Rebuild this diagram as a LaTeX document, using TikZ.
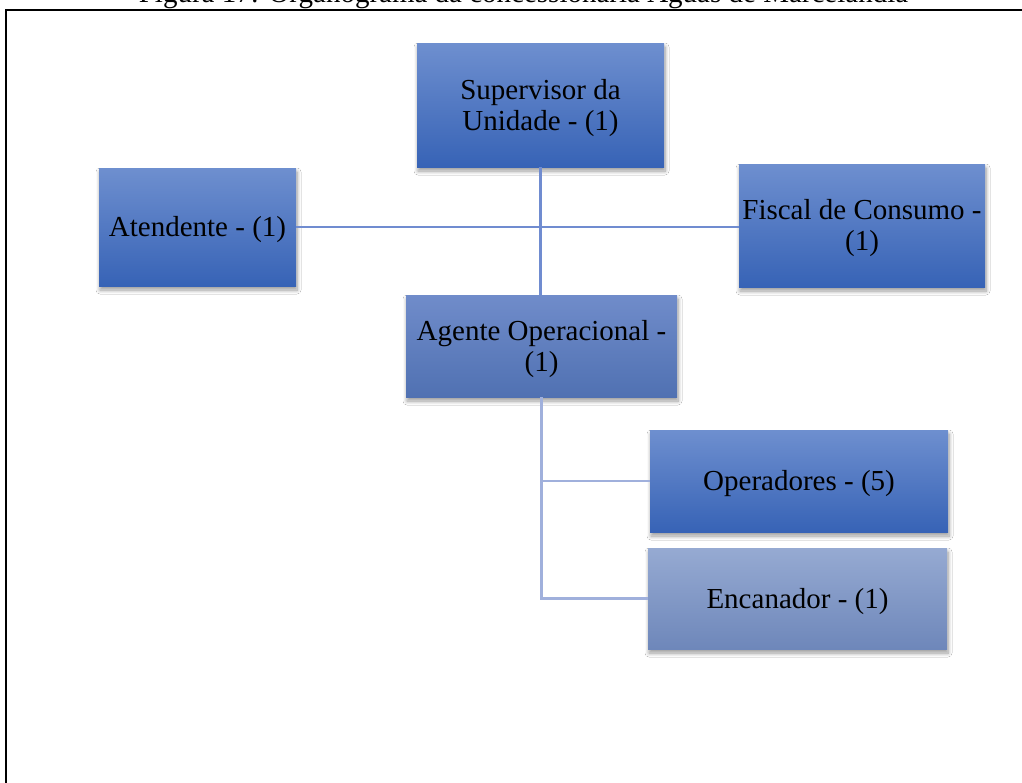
\documentclass[tikz,border=0pt]{standalone}
\usepackage{fontspec}
\setmainfont{Liberation Serif}
\usetikzlibrary{shadows.blur}
\definecolor{boxtop}{RGB}{110,143,207}
\definecolor{boxbot}{RGB}{55,99,182}
\definecolor{agtop}{RGB}{112,140,202}
\definecolor{agbot}{RGB}{80,113,178}
\definecolor{entop}{RGB}{150,170,210}
\definecolor{enbot}{RGB}{110,135,186}
\definecolor{linedark}{RGB}{112,140,208}
\definecolor{linelight}{RGB}{160,176,220}
\newcommand{\lowstrut}{\rule{0pt}{26pt}}
\tikzset{
  orgbox/.style={rectangle, inner sep=0pt, top color=boxtop, bottom color=boxbot,
    blur shadow={shadow xshift=1pt, shadow yshift=-4pt, shadow blur steps=8, shadow blur radius=4pt, shadow opacity=40},
    font=\fontsize{29}{31}\selectfont, align=center},
  agbox/.style={orgbox, top color=agtop, bottom color=agbot},
  enbox/.style={orgbox, top color=entop, bottom color=enbot},
  conndark/.style={draw=linedark, line width=2.4pt},
  connlight/.style={draw=linelight, line width=2.4pt},
  frameline/.style={draw=black, line width=2pt},
  titletext/.style={font=\fontsize{29}{31}\selectfont, anchor=base, inner sep=0pt}
}
\begin{document}
\begin{tikzpicture}[x=1pt,y=-1pt]
\useasboundingbox (0,0) rectangle (1022,782);
\fill[white] (0,0) rectangle (1022,782);
\node[titletext] (title) at (523.5,2) {Figura 17: Organograma da concessionária Águas de Marcelândia};
\draw[frameline] (5.5,800) -- (5.5,10) -- (1040,10);

\node[orgbox, minimum width=247pt, minimum height=124pt] (sup) at (540.5,105) {\lowstrut Supervisor da\\Unidade - (1)};
\node[orgbox, minimum width=197pt, minimum height=118pt] (at) at (197.5,227) {\lowstrut Atendente - (1)};
\node[orgbox, minimum width=246pt, minimum height=123pt] (fi) at (862,225.5) {\lowstrut Fiscal de Consumo -\\(1)};
\node[agbox, minimum width=271pt, minimum height=102pt] (ag) at (541.5,346) {\lowstrut Agente Operacional -\\(1)};
\node[orgbox, minimum width=298pt, minimum height=102pt] (op) at (799,481) {\lowstrut Operadores - (5)};
\node[enbox, minimum width=299pt, minimum height=101pt] (en) at (797.5,598.5) {\lowstrut Encanador - (1)};

\draw[conndark] (sup.south) -- (sup.south |- ag.north);
\draw[conndark] (at.east) -- (at.east -| fi.west);
\draw[connlight] (ag.south) |- (op.west);
\draw[connlight] (ag.south) |- (en.west);
\end{tikzpicture}
\end{document}
